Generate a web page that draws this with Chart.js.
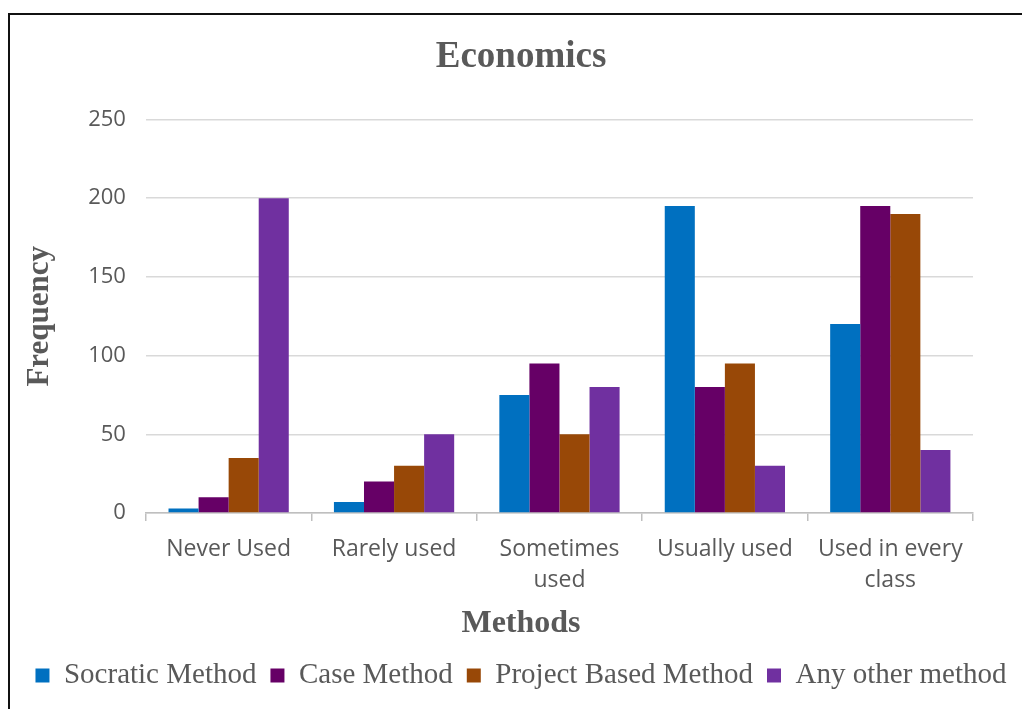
<!DOCTYPE html>
<html>
<head>
<meta charset="utf-8">
<script src="https://cdn.jsdelivr.net/npm/chart.js@4/dist/chart.umd.min.js"></script>
<style>
  html, body { margin: 0; padding: 0; background: #fff; overflow: hidden; }
  #frame { position: absolute; left: 8px; top: 13px; width: 1100px; height: 800px;
           border-top: 2px solid #111; border-left: 2px solid #111; }
  #wrap { position: absolute; left: 0; top: 0; width: 1022px; height: 709px; }
</style>
</head>
<body>
<div id="frame"></div>
<div id="wrap"><canvas id="econChart"></canvas></div>
<script>
const categories = ["Never Used", "Rarely used", ["Sometimes", "used"], "Usually used", ["Used in every", "class"]];
const socratic = [3, 7, 75, 195, 120];
const caseMethod = [10, 20, 95, 80, 195];
const projectBased = [35, 30, 50, 95, 190];
const anyOther = [200, 50, 80, 30, 40];
const yTicks = [0, 50, 100, 150, 200, 250];

const grey = '#595959';
const serif = '"Liberation Serif", "Times New Roman", serif';
const sans = '"Open Sans", sans-serif';

document.addEventListener("DOMContentLoaded", function () {
    const ctx = document.getElementById('econChart').getContext('2d');

    new Chart(ctx, {
        type: 'bar',
        data: {
            labels: categories,
            datasets: [
                { label: 'Socratic Method', data: socratic, backgroundColor: '#0070C0' },
                { label: 'Case Method', data: caseMethod, backgroundColor: '#660066' },
                { label: 'Project Based Method', data: projectBased, backgroundColor: '#984807' },
                { label: 'Any other method', data: anyOther, backgroundColor: '#7030A0' }
            ]
        },
        options: {
            responsive: true,
            maintainAspectRatio: false,
            animation: false,
            layout: { padding: { left: 20, right: 0, top: 0, bottom: 9 } },
            datasets: { bar: { categoryPercentage: 0.727, barPercentage: 1.0, borderWidth: 0 } },
            plugins: {
                tooltip: { enabled: false },
                title: {
                    display: true,
                    text: 'Economics',
                    color: grey,
                    font: { family: serif, size: 37, weight: 'bold' },
                    padding: { top: 35, bottom: 40 }
                },
                subtitle: {
                    display: true,
                    text: 'Methods',
                    position: 'bottom',
                    weight: 500,
                    color: grey,
                    font: { family: serif, size: 32, weight: 'bold', lineHeight: 0.9 },
                    padding: { top: 0, bottom: 9 }
                },
                legend: {
                    position: 'bottom',
                    labels: {
                        boxWidth: 14,
                        boxHeight: 14,
                        padding: 14,
                        color: grey,
                        font: { family: serif, size: 29 }
                    }
                }
            },
            scales: {
                x: {
                    grid: { offset: true, drawOnChartArea: false, drawTicks: true, tickLength: 8, color: '#bfbfbf', lineWidth: 1.5 },
                    border: { display: true, color: '#bfbfbf', width: 1.5 },
                    ticks: { color: grey, padding: 13, maxRotation: 0, autoSkip: false,
                             font: { family: sans, size: 23, lineHeight: 1.35 } }
                },
                y: {
                    min: 0,
                    max: yTicks[yTicks.length - 1],
                    afterBuildTicks: function (scale) { scale.ticks = yTicks.map(v => ({ value: v })); },
                    grid: { drawTicks: false, color: '#d9d9d9', lineWidth: 1.5 },
                    border: { display: false },
                    ticks: { color: grey, padding: 20, font: { family: sans, size: 22 } },
                    title: {
                        display: true,
                        text: 'Frequency',
                        color: grey,
                        font: { family: serif, size: 31, weight: 'bold' },
                        padding: { top: 1, bottom: 10 }
                    }
                },
                yRight: {
                    position: 'right',
                    display: true,
                    grid: { display: false },
                    border: { display: false },
                    ticks: { display: false },
                    afterFit: function (scale) { scale.width = 49; }
                }
            }
        }
    });
});
</script>
</body>
</html>
